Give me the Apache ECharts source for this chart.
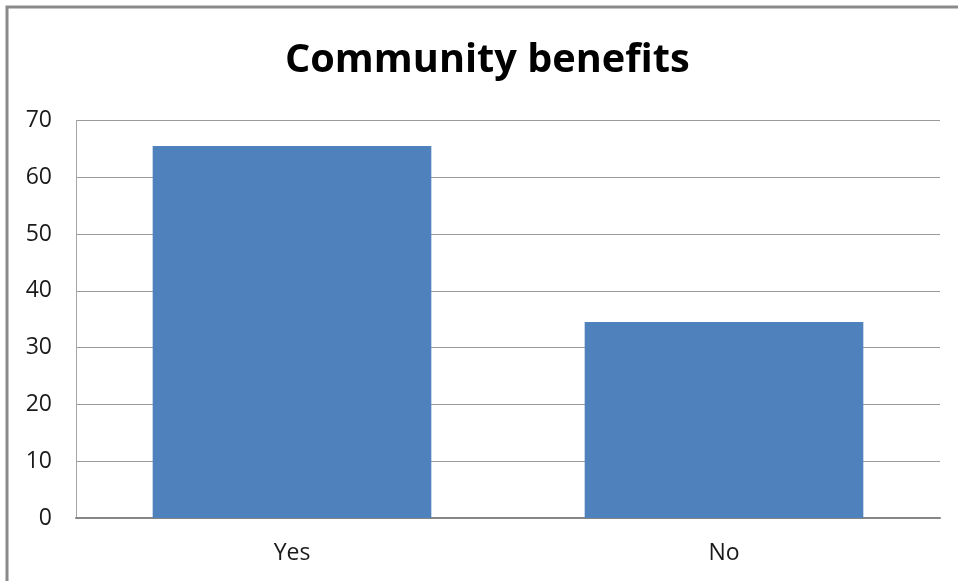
<!DOCTYPE html>
<html><head><meta charset="utf-8">
<script src="https://cdn.jsdelivr.net/npm/echarts@6/dist/echarts.min.js"></script>
<style>html,body{margin:0;padding:0;background:#fff;}#c{width:958px;height:581px;}</style>
</head><body><div id="c"></div>
<script>
const categories = ["Yes", "No"];
const values = [65.5, 34.5];
const yTicks = [0, 10, 20, 30, 40, 50, 60, 70];
const titleText = "Community benefits";

const chart = echarts.init(document.getElementById('c'), null, {renderer: 'canvas'});
chart.setOption({
  animation: false,
  backgroundColor: '#ffffff',
  title: {
    text: titleText, left: 280, top: 36,
    textStyle: {fontFamily: 'Open Sans', fontWeight: 'bold', fontSize: 39.7, color: '#000'}
  },
  graphic: [{
    type: 'rect', shape: {x: 7, y: 7, width: 1200, height: 1200},
    style: {fill: 'none', stroke: '#8a8a8a', lineWidth: 3}, silent: true
  }],
  grid: {left: 76, right: 18, top: 120.5, bottom: 63, containLabel: false},
  xAxis: {
    type: 'category', data: categories,
    axisLine: {show: true, lineStyle: {color: '#868686', width: 2}},
    axisTick: {show: false},
    axisLabel: {fontFamily: 'Open Sans', fontSize: 23, color: '#1a1a1a', margin: 24}
  },
  yAxis: {
    type: 'value', min: yTicks[0], max: yTicks[yTicks.length - 1], interval: 10,
    axisLine: {show: true, lineStyle: {color: '#a6a6a6', width: 1}},
    axisTick: {show: false},
    splitLine: {lineStyle: {color: '#9a9a9a', width: 1}},
    axisLabel: {fontFamily: 'Open Sans', fontSize: 23, color: '#1a1a1a', margin: 24}
  },
  series: [{
    type: 'bar', data: values, barWidth: '64.5%',
    itemStyle: {color: '#4F81BD'}
  }]
});
</script></body></html>
